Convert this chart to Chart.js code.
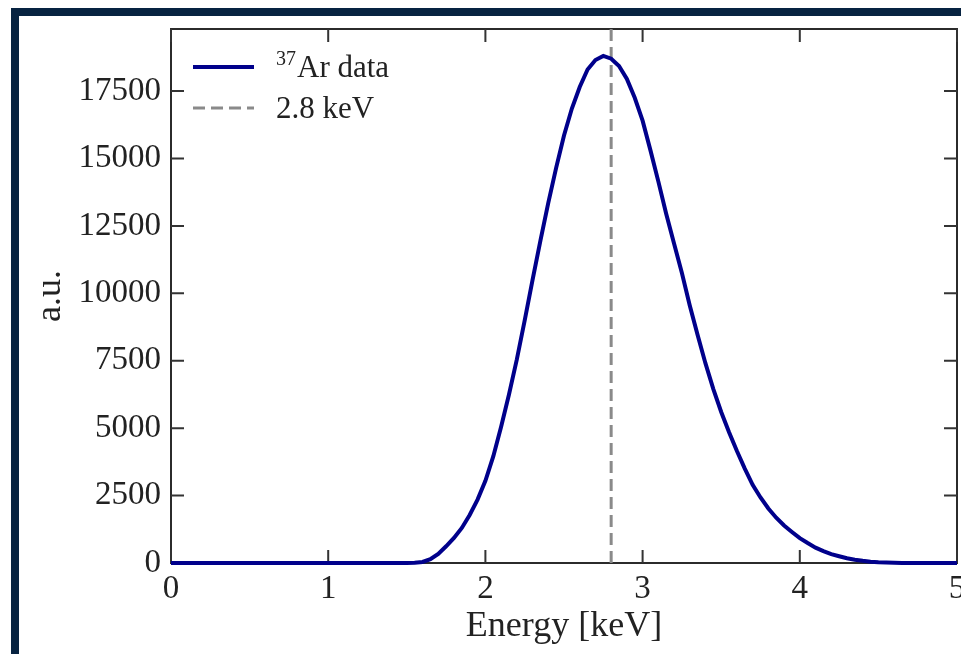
<!DOCTYPE html>
<html>
<head>
<meta charset="utf-8">
<script src="https://cdn.jsdelivr.net/npm/chart.js@4.4.1/dist/chart.umd.min.js"></script>
<style>
  html, body { margin: 0; padding: 0; background: #fff; }
  body { width: 961px; height: 654px; position: relative; overflow: hidden; }
  #wrap { position: absolute; left: 0; top: 0; width: 961px; height: 654px; }
  .frame-top { position: absolute; left: 11px; top: 8px; width: 950px; height: 8px; background: #072341; }
  .frame-left { position: absolute; left: 11px; top: 8px; width: 8px; height: 646px; background: #072341; }
</style>
</head>
<body>
<div id="wrap"><canvas id="spec" width="961" height="654"></canvas></div>
<div class="frame-top"></div>
<div class="frame-left"></div>
<script>
/* Ar-37 spectrum */
const energies = [0, 1.50, 1.55, 1.60, 1.65, 1.70, 1.75, 1.80, 1.85, 1.90, 1.95,
  2.00, 2.05, 2.10, 2.15, 2.20, 2.25, 2.30, 2.35, 2.40, 2.45,
  2.50, 2.55, 2.60, 2.65, 2.70, 2.75, 2.80, 2.85, 2.90, 2.95,
  3.00, 3.05, 3.10, 3.15, 3.20, 3.25, 3.30, 3.35, 3.40, 3.45,
  3.50, 3.55, 3.60, 3.65, 3.70, 3.75, 3.80, 3.85, 3.90, 3.95,
  4.00, 4.05, 4.10, 4.15, 4.20, 4.25, 4.30, 4.35, 4.40, 4.45,
  4.50, 4.55, 4.60, 4.65, 4.70, 5.00];
const counts = [0, 0, 10, 40, 140, 340, 620, 930, 1300, 1780, 2350,
  3050, 3950, 5050, 6250, 7550, 9000, 10500, 11950, 13350, 14650,
  15850, 16850, 17650, 18300, 18650, 18800, 18700, 18430, 17950, 17250,
  16400, 15300, 14150, 12950, 11850, 10750, 9550, 8450, 7400, 6450,
  5600, 4850, 4150, 3500, 2900, 2430, 2020, 1680, 1390, 1150,
  920, 740, 570, 440, 330, 250, 175, 120, 80, 50,
  30, 18, 10, 4, 0, 0];
const markerEnergy = 2.8;
const xTicks = [0, 1, 2, 3, 4, 5];
const yTicks = [0, 2500, 5000, 7500, 10000, 12500, 15000, 17500];
const yMax = 19800;

const serif = '"Liberation Serif", "Times New Roman", serif';
const ink = '#222';

// box round the plot + inward ticks on all four sides
const boxPlugin = {
  id: 'boxTicks',
  beforeDatasetsDraw(chart) {
    const { ctx, chartArea: a, scales } = chart;
    const len = 13;
    ctx.save();
    ctx.strokeStyle = '#2b2b2b';
    ctx.lineWidth = 2;
    ctx.strokeRect(a.left, a.top, a.right - a.left, a.bottom - a.top);
    ctx.strokeStyle = '#333';
    ctx.beginPath();
    scales.x.ticks.forEach((t) => {
      const px = scales.x.getPixelForValue(t.value);
      ctx.moveTo(px, a.bottom); ctx.lineTo(px, a.bottom - len);
      ctx.moveTo(px, a.top); ctx.lineTo(px, a.top + len);
    });
    scales.y.ticks.forEach((t) => {
      const py = scales.y.getPixelForValue(t.value);
      ctx.moveTo(a.left, py); ctx.lineTo(a.left + len, py);
      ctx.moveTo(a.right, py); ctx.lineTo(a.right - len, py);
    });
    ctx.stroke();
    ctx.restore();
  }
};

const supMap = { '⁰': '0', '¹': '1', '²': '2', '³': '3', '⁴': '4', '⁵': '5', '⁶': '6', '⁷': '7', '⁸': '8', '⁹': '9' };

// legend drawn inside the plot, top left
const legendPlugin = {
  id: 'insideLegend',
  afterDatasetsDraw(chart) {
    const { ctx, chartArea: a } = chart;
    const x0 = a.left + 22;
    chart.data.datasets.forEach((ds, i) => {
      const y = a.top + 38 + i * 41;
      ctx.save();
      ctx.strokeStyle = ds.borderColor;
      ctx.lineWidth = ds.borderWidth;
      ctx.setLineDash(ds.borderDash || []);
      ctx.beginPath(); ctx.moveTo(x0, y); ctx.lineTo(x0 + 61, y); ctx.stroke();
      ctx.setLineDash([]);
      ctx.fillStyle = ink;
      ctx.textBaseline = 'middle';
      let tx = x0 + 83;
      let sup = '';
      let rest = ds.label;
      while (rest.length && supMap[rest[0]]) { sup += supMap[rest[0]]; rest = rest.slice(1); }
      if (sup) {
        ctx.font = '20px ' + serif;
        ctx.fillText(sup, tx, y - 7);
        tx += ctx.measureText(sup).width + 1;
      }
      ctx.font = '31px ' + serif;
      ctx.fillText(rest, tx, y + 2);
      ctx.restore();
    });
  }
};

new Chart(document.getElementById('spec'), {
  type: 'scatter',
  data: {
    datasets: [{
      label: '³⁷Ar data',
      data: energies.map((e, i) => ({ x: e, y: counts[i] })),
      showLine: true,
      borderColor: '#00008b',
      borderWidth: 4,
      pointRadius: 0,
      tension: 0,
      clip: 4,
    }, {
      label: '2.8 keV',
      data: [{ x: markerEnergy, y: 0 }, { x: markerEnergy, y: yMax }],
      showLine: true,
      borderColor: '#8a8a8a',
      borderWidth: 3,
      borderDash: [12, 6],
      pointRadius: 0,
      clip: 2,
    }],
  },
  options: {
    responsive: false,
    animation: false,
    devicePixelRatio: 1,
    layout: { padding: { left: 0, top: 29, right: 4, bottom: 0 } },
    plugins: { legend: { display: false }, tooltip: { enabled: false } },
    scales: {
      x: {
        type: 'linear', min: 0, max: 5,
        afterBuildTicks: (s) => { s.ticks = xTicks.map((v) => ({ value: v })); },
        afterFit: (s) => { s.height = 91; s.paddingLeft = 0; s.paddingRight = 0; },
        grid: { display: false, drawTicks: false },
        border: { display: false },
        ticks: { font: { family: serif, size: 33 }, color: ink, padding: 7, maxRotation: 0, autoSkip: false },
        title: { display: true, text: 'Energy [keV]', font: { family: serif, size: 36 }, color: ink, padding: { top: 0, bottom: 6 } },
      },
      y: {
        type: 'linear', min: 0, max: yMax,
        afterBuildTicks: (s) => { s.ticks = yTicks.map((v) => ({ value: v })); },
        afterFit: (s) => { s.width = 171; s.paddingTop = 0; s.paddingBottom = 0; },
        grid: { display: false, drawTicks: false },
        border: { display: false },
        ticks: { font: { family: serif, size: 33 }, color: ink, padding: 10, autoSkip: false, callback: (v) => String(v) },
        title: { display: true, text: 'a.u.', font: { family: serif, size: 36 }, color: ink, padding: { top: 29, bottom: 0 } },
      },
    },
  },
  plugins: [boxPlugin, legendPlugin],
});
</script>
</body>
</html>
